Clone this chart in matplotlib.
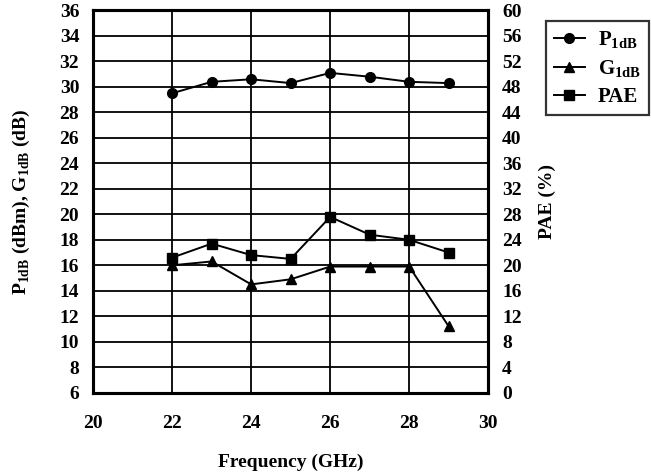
import matplotlib
matplotlib.use("Agg")
import matplotlib.pyplot as plt

plt.rcParams['font.family'] = ['Liberation Serif', 'DejaVu Serif']
plt.rcParams['font.weight'] = 'bold'
plt.rcParams['mathtext.fontset'] = 'custom'
plt.rcParams['mathtext.rm'] = 'Liberation Serif:bold'
plt.rcParams['mathtext.bf'] = 'Liberation Serif:bold'

freq = [22, 23, 24, 25, 26, 27, 28, 29]
p1db = [29.5, 30.4, 30.6, 30.3, 31.1, 30.8, 30.4, 30.3]
g1db = [16.0, 16.3, 14.5, 14.9, 15.9, 15.9, 15.9, 11.2]
pae = [21.2, 23.4, 21.6, 21.0, 27.6, 24.8, 24.0, 22.0]

fig = plt.figure(figsize=(6.51, 4.76), dpi=100)
ax = fig.add_axes([0.143, 0.175, 0.607, 0.803])
ax2 = ax.twinx()

l1, = ax.plot(freq, p1db, color='black', lw=1.4, marker='o', ms=7, label='P$_{\\mathregular{1dB}}$')
l2, = ax.plot(freq, g1db, color='black', lw=1.4, marker='^', ms=7, label='G$_{\\mathregular{1dB}}$')
l3, = ax2.plot(freq, pae, color='black', lw=1.4, marker='s', ms=7, label='PAE')

ax.set_xlim(20, 30)
ax.set_ylim(6, 36)
ax2.set_ylim(0, 60)
ax.set_xticks(range(20, 31, 2))
ax.set_yticks(range(6, 37, 2))
ax2.set_yticks(range(0, 61, 4))
ax.grid(True, color='black', lw=1.3)
ax.tick_params(axis='y', length=0, labelsize=14, pad=10)
ax.tick_params(axis='x', length=0, labelsize=14, pad=16)
ax2.tick_params(length=0, labelsize=14, pad=10)
for a in (ax, ax2):
    for s in a.spines.values():
        s.set_linewidth(2.2)

ax.set_xlabel('Frequency (GHz)', fontsize=14, fontweight='bold', labelpad=16)
ax.set_ylabel('P$_{\\mathregular{1dB}}$ (dBm), G$_{\\mathregular{1dB}}$ (dB)', fontsize=14,
              fontweight='bold', labelpad=20)
ax2.set_ylabel('PAE (%)', fontsize=14, fontweight='bold', labelpad=12)

leg = fig.legend(handles=[l1, l2, l3], loc='upper left', bbox_to_anchor=(0.838, 0.956),
                 borderaxespad=0, fontsize=15, frameon=True, fancybox=False, edgecolor='black',
                 handlelength=1.5, handletextpad=0.6, borderpad=0.4, labelspacing=0.35)
leg.get_frame().set_linewidth(1.6)

fig.savefig('out.png', dpi=100)
